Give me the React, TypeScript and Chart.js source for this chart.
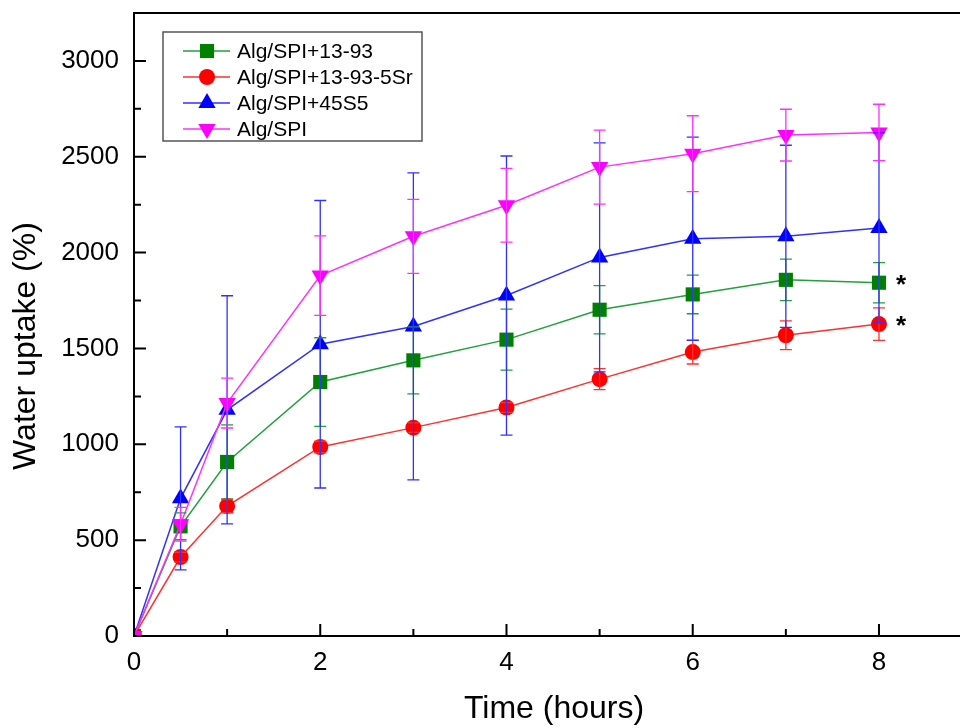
import React, { useEffect, useRef } from "react";
import { Chart, registerables } from "chart.js";
Chart.register(...registerables);

const FONT = 'Arial, "Liberation Sans", sans-serif';

const times = [0, 0.5, 1, 2, 3, 4, 5, 6, 7, 8];

const seriesLabels = ["Alg/SPI+13-93", "Alg/SPI+13-93-5Sr", "Alg/SPI+45S5", "Alg/SPI"];

const uptake1393 = [0, 572, 908, 1325, 1438, 1546, 1702, 1782, 1858, 1843];
const err1393 = [0, 70, 193, 231, 175, 159, 126, 101, 108, 105];

const uptake1393Sr = [0, 412, 678, 986, 1087, 1192, 1340, 1481, 1569, 1627];
const err1393Sr = [0, 25, 35, 30, 25, 25, 55, 62, 75, 85];

const uptake45S5 = [0, 718, 1180, 1522, 1615, 1776, 1975, 2072, 2085, 2129];
const err45S5 = [0, 373, 595, 750, 801, 728, 597, 530, 475, 496];

const uptakeAlgSPI = [0, 583, 1215, 1880, 2085, 2247, 2446, 2516, 2613, 2627];
const errAlgSPI = [0, 88, 130, 207, 193, 192, 193, 198, 135, 147];

const significant = [true, true, false, false];

const xTickValues = [0, 2, 4, 6, 8];
const xMinorTickValues = [1, 3, 5, 7];
const yTickValues = [0, 500, 1000, 1500, 2000, 2500, 3000];
const yMinorTickValues = [250, 750, 1250, 1750, 2250, 2750];

const xTitle = "Time (hours)";
const yTitle = "Water uptake (%)";

const lineColors = ["#22a03c", "#ff3030", "#3030ff", "#ff30ff"];
const markerColors = ["#008000", "#ff0000", "#0000ff", "#ff00ff"];
const markerStyles = ["rect", "circle", "triangle", "triangle"];
const markerRotations = [0, 0, 0, 180];
const markerRadii = [10, 8, 10, 10];

const values = [uptake1393, uptake1393Sr, uptake45S5, uptakeAlgSPI];
const errors = [err1393, err1393Sr, err45S5, errAlgSPI];

function drawMarker(ctx: CanvasRenderingContext2D, style: string, rot: number, r: number, x: number, y: number) {
  ctx.beginPath();
  if (style === "rect") {
    const s = Math.SQRT1_2 * r;
    ctx.rect(x - s, y - s, 2 * s, 2 * s);
  } else if (style === "circle") {
    ctx.arc(x, y, r, 0, Math.PI * 2);
  } else {
    let rad = (rot * Math.PI) / 180;
    for (let i = 0; i < 3; i++) {
      const px = x + Math.sin(rad) * r;
      const py = y - Math.cos(rad) * r;
      if (i === 0) ctx.moveTo(px, py);
      else ctx.lineTo(px, py);
      rad += (2 * Math.PI) / 3;
    }
    ctx.closePath();
  }
  ctx.fill();
}

const decorPlugin = {
  id: "decor",
  afterDatasetsDraw(chart: any) {
    const { ctx, scales } = chart;
    const xs = scales.x;
    const ys = scales.y;
    ctx.save();
    ctx.lineWidth = 1.3;
    values.forEach((vals, si) => {
      ctx.strokeStyle = lineColors[si];
      vals.forEach((v, i) => {
        const e = errors[si][i];
        if (!e) return;
        const px = xs.getPixelForValue(times[i]);
        const top = ys.getPixelForValue(v + e);
        const bot = ys.getPixelForValue(v - e);
        ctx.beginPath();
        ctx.moveTo(px, top);
        ctx.lineTo(px, bot);
        ctx.moveTo(px - 6, top);
        ctx.lineTo(px + 6, top);
        ctx.moveTo(px - 6, bot);
        ctx.lineTo(px + 6, bot);
        ctx.stroke();
      });
    });
    // significance stars
    ctx.fillStyle = "#000";
    ctx.font = `bold 26px ${FONT}`;
    ctx.textAlign = "center";
    ctx.textBaseline = "middle";
    values.forEach((vals, si) => {
      if (!significant[si]) return;
      const last = vals.length - 1;
      const px = xs.getPixelForValue(times[last]) + 22;
      const py = ys.getPixelForValue(vals[last]) + 3;
      ctx.fillText("*", px, py);
    });
    ctx.restore();
  },
  afterDraw(chart: any) {
    const { ctx, chartArea, scales } = chart;
    const xs = scales.x;
    const ys = scales.y;
    ctx.save();
    // top frame
    ctx.strokeStyle = "#000";
    ctx.lineWidth = 2;
    ctx.beginPath();
    ctx.moveTo(chartArea.left - 1, chartArea.top);
    ctx.lineTo(chartArea.right, chartArea.top);
    ctx.stroke();
    // inward ticks
    ctx.lineWidth = 2;
    ctx.beginPath();
    yTickValues.forEach((v) => {
      const py = ys.getPixelForValue(v);
      ctx.moveTo(chartArea.left, py);
      ctx.lineTo(chartArea.left + 12, py);
    });
    yMinorTickValues.forEach((v) => {
      const py = ys.getPixelForValue(v);
      ctx.moveTo(chartArea.left, py);
      ctx.lineTo(chartArea.left + 7, py);
    });
    xTickValues.forEach((v) => {
      const px = xs.getPixelForValue(v);
      ctx.moveTo(px, chartArea.bottom);
      ctx.lineTo(px, chartArea.bottom - 12);
    });
    xMinorTickValues.forEach((v) => {
      const px = xs.getPixelForValue(v);
      ctx.moveTo(px, chartArea.bottom);
      ctx.lineTo(px, chartArea.bottom - 7);
    });
    ctx.stroke();

    // legend
    const lx = 163, ly = 32, lw = 259, lh = 109;
    ctx.fillStyle = "#fff";
    ctx.fillRect(lx, ly, lw, lh);
    ctx.strokeStyle = "#555";
    ctx.lineWidth = 1.5;
    ctx.strokeRect(lx, ly, lw, lh);
    ctx.font = `21px ${FONT}`;
    ctx.textAlign = "left";
    ctx.textBaseline = "middle";
    seriesLabels.forEach((label, i) => {
      const y = ly + 19 + i * 26;
      ctx.strokeStyle = lineColors[i];
      ctx.lineWidth = 1.5;
      ctx.beginPath();
      ctx.moveTo(183, y);
      ctx.lineTo(230, y);
      ctx.stroke();
      ctx.fillStyle = markerColors[i];
      drawMarker(ctx, markerStyles[i], markerRotations[i], markerRadii[i], 207, y);
      ctx.fillStyle = "#000";
      ctx.fillText(label, 237, y + 1);
    });

    // axis titles
    ctx.fillStyle = "#000";
    ctx.font = `32px ${FONT}`;
    ctx.textAlign = "center";
    ctx.textBaseline = "middle";
    ctx.fillText(xTitle, 554, 709);
    ctx.translate(26, 346);
    ctx.rotate(-Math.PI / 2);
    ctx.fillText(yTitle, 0, 0);
    ctx.restore();
  },
};

export default function App() {
  const canvasRef = useRef<HTMLCanvasElement | null>(null);

  useEffect(() => {
    if (!canvasRef.current) return;
    const datasets = values.map((vals, i) => ({
      label: seriesLabels[i],
      data: vals.map((v, j) => ({ x: times[j], y: v })),
      borderColor: lineColors[i],
      backgroundColor: markerColors[i],
      borderWidth: 1.5,
      pointStyle: markerStyles[i] as any,
      pointRotation: markerRotations[i],
      pointRadius: markerRadii[i],
      pointBackgroundColor: markerColors[i],
      pointBorderColor: markerColors[i],
      pointBorderWidth: 0,
      tension: 0,
      order: 3 - i,
    }));
    const chart = new Chart(canvasRef.current, {
      type: "line",
      data: { datasets },
      options: {
        responsive: false,
        animation: false,
        events: [],
        layout: { autoPadding: false, padding: { top: 13, right: 0, left: 0, bottom: 0 } },
        plugins: { legend: { display: false }, tooltip: { enabled: false } },
        scales: {
          x: {
            type: "linear",
            min: 0,
            max: 8.87,
            grid: { display: false, drawTicks: false, tickLength: 0 },
            border: { display: true, color: "#000", width: 2 },
            ticks: {
              color: "#000",
              font: { family: FONT, size: 26 },
              padding: 11,
              maxRotation: 0,
              callback: (v: any) => String(v),
            },
            afterBuildTicks: (s: any) => {
              s.ticks = xTickValues.map((v) => ({ value: v }));
            },
            afterFit: (s: any) => {
              s.height = 92;
              s.paddingLeft = 0;
              s.paddingRight = 0;
            },
          },
          y: {
            type: "linear",
            min: 0,
            max: 3250,
            grid: { display: false, drawTicks: false, tickLength: 0 },
            border: { display: true, color: "#000", width: 2 },
            ticks: {
              color: "#000",
              font: { family: FONT, size: 26 },
              padding: 15,
              callback: (v: any) => String(v),
            },
            afterBuildTicks: (s: any) => {
              s.ticks = yTickValues.map((v) => ({ value: v }));
            },
            afterFit: (s: any) => {
              s.width = 134;
              s.paddingTop = 0;
              s.paddingBottom = 0;
            },
          },
        },
      },
      plugins: [decorPlugin],
    });
    return () => chart.destroy();
  }, []);

  return (
    <div style={{ position: "fixed", left: 0, top: 0, width: 960, height: 728, background: "#fff" }}>
      <canvas ref={canvasRef} width={960} height={728} style={{ width: 960, height: 728, display: "block" }} />
    </div>
  );
}
